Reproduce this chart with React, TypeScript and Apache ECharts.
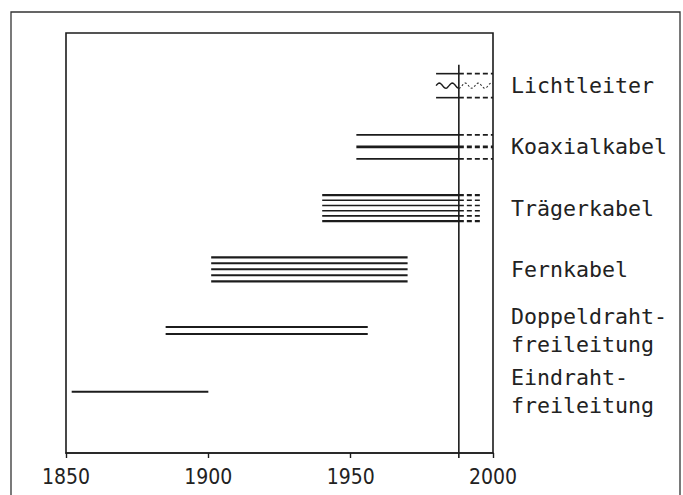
import React, { useEffect, useRef } from "react";
import * as echarts from "echarts";

const technologies = [
  "Lichtleiter",
  "Koaxialkabel",
  "Trägerkabel",
  "Fernkabel",
  "Doppeldraht-\nfreileitung",
  "Eindraht-\nfreileitung",
];
const startYears = [1980, 1952, 1940, 1901, 1885, 1852];
const solidEndYears = [1988, 1988, 1988, 1970, 1956, 1900];
const projectedEndYears = [2000, 2000, 1996, 1970, 1956, 1900];
const lineCounts = [3, 3, 6, 5, 2, 1];
const rowValues = [6, 5, 4, 3, 2, 1];
const NOW_YEAR = 1988;
const xTickLabels = [1850, 1900, 1950, 2000];

// drawing styles (not data)
const lineGap = [12, 12, 5.2, 6, 7, 0];
const INK = "#1c1c1c";

export default function App() {
  const ref = useRef<HTMLDivElement>(null);
  useEffect(() => {
    document.body.style.margin = "0";
    const chart = echarts.init(ref.current!, null, { renderer: "svg" });

    const seriesData = technologies.map((_, i) => [
      startYears[i],
      solidEndYears[i],
      projectedEndYears[i],
      rowValues[i],
      lineCounts[i],
      i,
    ]);

    const renderItem = (params: any, api: any) => {
      const row = api.value(3);
      const n = api.value(4);
      const idx = api.value(5);
      const a = api.coord([api.value(0), row]);
      const b = api.coord([api.value(1), row]);
      const c = api.coord([api.value(2), row]);
      const gap = lineGap[idx];
      const children: any[] = [];
      for (let k = 0; k < n; k++) {
        const y = a[1] + (k - (n - 1) / 2) * gap;
        let w = 1.6;
        if (idx === 1 && k === 1) w = 2.6;
        if ((idx === 2 || idx === 3) && (k === 0 || k === n - 1)) w = 2.2;
        if (idx === 3 || idx === 4) w = Math.max(w, 2);
        if (idx === 5) w = 2;
        if (idx === 0 && k === 1) {
          // wavy line (optical fibre symbol)
          const pts: number[][] = [];
          const period = 13;
          const amp = 2.6;
          for (let x = a[0]; x <= b[0]; x += 1) {
            pts.push([x, y - amp * Math.sin(((x - a[0]) / period) * 2 * Math.PI)]);
          }
          children.push({
            type: "polyline",
            shape: { points: pts },
            style: { stroke: INK, lineWidth: 1.4, fill: null },
          });
          const pts2: number[][] = [];
          for (let x = b[0]; x <= c[0]; x += 1) {
            pts2.push([x, y - amp * Math.sin(((x - a[0]) / period) * 2 * Math.PI)]);
          }
          children.push({
            type: "polyline",
            shape: { points: pts2 },
            style: { stroke: "#333", lineWidth: 1.1, fill: null, lineDash: [2, 2] },
          });
          continue;
        }
        children.push({
          type: "line",
          shape: { x1: a[0], y1: y, x2: b[0], y2: y },
          style: { stroke: INK, lineWidth: w },
        });
        if (c[0] > b[0] + 1) {
          children.push({
            type: "line",
            shape: { x1: b[0], y1: y, x2: c[0], y2: y },
            style: { stroke: INK, lineWidth: w, lineDash: [5, 3] },
          });
        }
      }
      return { type: "group", children };
    };

    chart.setOption({
      animation: false,
      backgroundColor: "#ffffff",
      graphic: [
        {
          type: "rect",
          shape: { x: 11, y: 12, width: 669, height: 520 },
          style: { fill: null, stroke: "#333", lineWidth: 1.3 },
          silent: true,
        },
      ],
      grid: {
        left: 66,
        right: 190,
        top: 33,
        bottom: 42,
        show: true,
        borderColor: INK,
        borderWidth: 1.6,
        backgroundColor: "transparent",
      },
      xAxis: {
        type: "value",
        min: xTickLabels[0],
        max: xTickLabels[xTickLabels.length - 1],
        interval: 50,
        axisLine: { show: true, lineStyle: { color: INK, width: 1.6 } },
        axisTick: { show: true, length: 5, lineStyle: { color: INK, width: 1.4 } },
        splitLine: { show: false },
        axisLabel: {
          color: "#222",
          fontSize: 21,
          fontFamily: "'Liberation Sans Narrow', 'DejaVu Sans Condensed', 'Liberation Sans', sans-serif",
          margin: 13,
          formatter: (v: number) => String(v),
        },
      },
      yAxis: {
        type: "value",
        position: "right",
        min: 0,
        max: 6.86,
        interval: 1,
        axisLine: { show: false },
        axisTick: { show: false },
        splitLine: { show: false },
        axisLabel: {
          margin: 18,
          color: "#222",
          fontSize: 21.6,
          lineHeight: 28,
          padding: [4, 0, 0, 0],
          fontFamily: "'DejaVu Sans Mono', 'Liberation Mono', monospace",
          formatter: (v: number) => {
            const i = rowValues.indexOf(v);
            return i >= 0 ? technologies[i] : "";
          },
        },
      },
      series: [
        {
          type: "custom",
          renderItem,
          data: seriesData,
          clip: false,
        },
        {
          type: "line",
          data: [
            [NOW_YEAR, -0.08],
            [NOW_YEAR, 6.34],
          ],
          symbol: "none",
          clip: false,
          lineStyle: { color: INK, width: 1.6 },
        },
      ],
    });
    return () => chart.dispose();
  }, []);
  return <div ref={ref} style={{ width: 683, height: 495 }} />;
}
